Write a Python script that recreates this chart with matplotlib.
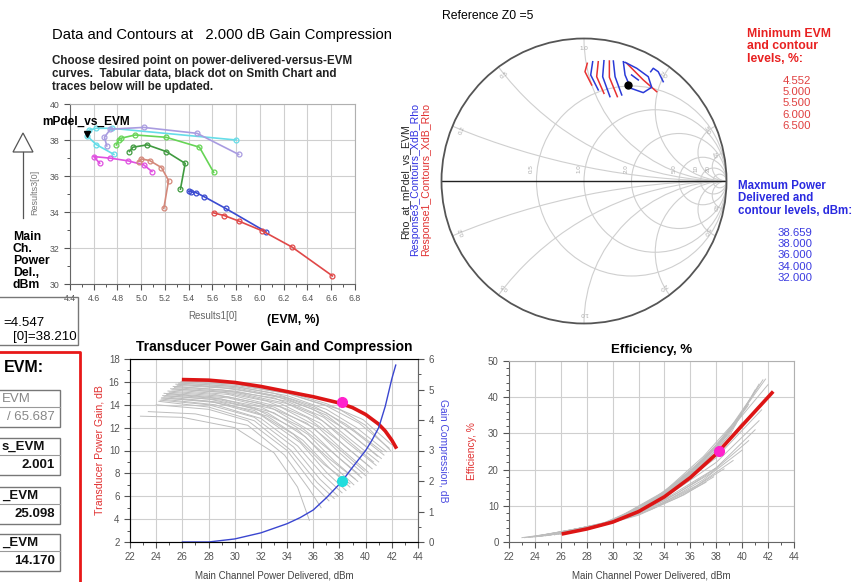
import numpy as np
import matplotlib.pyplot as plt
from matplotlib.patches import Circle, Rectangle, Polygon

plt.rcParams['font.family'] = ['Liberation Sans', 'DejaVu Sans']

# power delivered vs EVM loci (top left)
evm_cyan = [4.77, 4.62, 4.547, 4.56, 4.62, 4.75, 5.80]
pdel_cyan = [37.2, 37.75, 38.21, 38.55, 38.65, 38.65, 38.0]
evm_lav = [4.71, 4.69, 4.74, 5.02, 5.47, 5.82]
pdel_lav = [37.67, 38.15, 38.6, 38.7, 38.37, 37.2]
evm_lgreen = [4.79, 4.81, 4.83, 4.95, 5.21, 5.49, 5.61]
pdel_lgreen = [37.73, 38.0, 38.1, 38.28, 38.15, 37.6, 36.2]
evm_dgreen = [4.90, 4.93, 5.05, 5.21, 5.37, 5.33]
pdel_dgreen = [37.36, 37.6, 37.73, 37.36, 36.7, 35.27]
evm_mag = [4.65, 4.60, 4.74, 4.89, 5.02, 5.09]
pdel_mag = [36.71, 37.08, 36.99, 36.84, 36.62, 36.25]
evm_salmon = [4.98, 5.00, 5.07, 5.17, 5.23, 5.19]
pdel_salmon = [36.8, 36.95, 36.86, 36.47, 35.75, 34.2]
evm_blue = [5.40, 5.42, 5.46, 5.53, 5.71, 6.05]
pdel_blue = [35.15, 35.12, 35.08, 34.85, 34.2, 32.9]
evm_red = [5.61, 5.70, 5.82, 6.02, 6.27, 6.61]
pdel_red = [33.95, 33.8, 33.5, 32.95, 32.05, 30.45]
marker_evm, marker_pdel = 4.547, 38.210

# Smith chart contours, reflection coefficient (re, im)
evm_contours = [
    ([0.023, 0.007, 0.054], [0.826, 0.767, 0.674]),
    ([0.100, 0.089, 0.140], [0.837, 0.732, 0.615]),
    ([0.178, 0.178, 0.234], [0.842, 0.728, 0.592]),
    ([0.300, 0.416, 0.510], [0.826, 0.709, 0.627]),
]
pdel_contours = [
    ([0.061, 0.047, 0.100], [0.837, 0.744, 0.639]),
    ([0.140, 0.131, 0.182], [0.844, 0.732, 0.592]),
    ([0.206, 0.218, 0.265], [0.842, 0.732, 0.604]),
    ([0.276, 0.288, 0.328, 0.416, 0.475, 0.451, 0.370, 0.288],
     [0.837, 0.744, 0.651, 0.620, 0.658, 0.732, 0.791, 0.833]),
    ([0.334, 0.381], [0.744, 0.709]),
    ([0.468, 0.486, 0.521, 0.556], [0.767, 0.791, 0.767, 0.697]),
]
rho_sel = (0.311, 0.674)
evm_levels = ['4.552', '5.000', '5.500', '6.000', '6.500']
pdel_levels = ['38.659', '38.000', '36.000', '34.000', '32.000']
r_circles = [0.5, 1, 2, 5, 10, 20]
x_arcs = [0.2, 0.5, 1, 2, 5, 10]

# gain vs power delivered
p_gain_sel = [26.1, 28, 30, 32, 34, 36, 38, 39, 40, 41, 41.5, 42, 42.3]
gain_sel = [16.2, 16.15, 15.95, 15.6, 15.15, 14.7, 14.15, 13.75, 13.15, 12.3, 11.7, 10.9, 10.3]
p_comp = [26.0, 28, 30, 32, 34, 35, 36, 37, 38, 38.21, 39, 40, 40.5, 41, 41.5, 42, 42.3]
comp_sel = [0.0, 0.0, 0.1, 0.3, 0.6, 0.8, 1.05, 1.45, 1.9, 2.0, 2.45, 3.0, 3.35, 3.75, 4.45, 5.35, 5.8]
gain_others = [
    ([25.9, 30, 34, 37, 39.5, 41.8], [16.0, 15.8, 15.0, 13.9, 12.4, 10.2]),
    ([25.8, 30, 34, 37, 39.3, 41.6], [15.9, 15.6, 14.8, 13.6, 12.0, 9.9]),
    ([25.7, 30, 34, 37, 39.2, 41.4], [15.8, 15.5, 14.6, 13.3, 11.6, 9.6]),
    ([25.6, 30, 34, 37, 39.0, 41.2], [15.7, 15.4, 14.5, 13.1, 11.3, 9.3]),
    ([25.5, 30, 34, 36.8, 38.8, 41.0], [15.6, 15.2, 14.3, 12.9, 11.0, 9.0]),
    ([25.4, 30, 34, 36.7, 38.6, 40.8], [15.5, 15.1, 14.1, 12.6, 10.7, 8.7]),
    ([25.3, 30, 33.5, 36.5, 38.4, 40.5], [15.4, 15.0, 14.1, 12.4, 10.4, 8.4]),
    ([25.2, 29.5, 33.5, 36.3, 38.2, 40.2], [15.3, 14.9, 13.8, 12.1, 10.1, 8.1]),
    ([25.0, 29.5, 33, 36, 38, 40.0], [15.1, 14.7, 13.8, 12.0, 9.8, 7.8]),
    ([24.9, 29.5, 33, 35.8, 37.8, 39.7], [15.0, 14.6, 13.6, 11.7, 9.5, 7.6]),
    ([24.8, 29, 33, 35.6, 37.6, 39.4], [14.9, 14.5, 13.3, 11.4, 9.1, 7.3]),
    ([24.7, 29, 32.5, 35.4, 37.4, 39.1], [14.8, 14.4, 13.3, 11.2, 8.8, 7.0]),
    ([24.6, 29, 32.5, 35.2, 37.2, 38.8], [14.7, 14.2, 13.0, 10.9, 8.5, 6.8]),
    ([24.5, 28.5, 32, 35, 37, 38.5], [14.6, 14.2, 13.1, 10.7, 8.1, 6.5]),
    ([24.4, 28.5, 32, 34.8, 36.8, 38.2], [14.5, 14.0, 12.8, 10.4, 7.8, 6.3]),
    ([24.3, 28, 31.5, 34.5, 36.5, 37.9], [14.4, 14.0, 12.9, 10.3, 7.5, 6.0]),
    ([24.2, 28, 31.5, 34.3, 36.3, 37.6], [14.3, 13.8, 12.6, 10.0, 7.2, 5.8]),
    ([24.0, 28, 31, 34, 36, 37.2], [14.0, 13.6, 12.6, 10.0, 7.0, 5.6]),
    ([23.4, 27, 31, 33.8, 35.7, 36.6], [13.4, 13.2, 12.2, 9.6, 6.6, 5.0]),
    ([22.8, 26, 30, 33, 34.8, 35.7], [13.0, 12.9, 12.0, 9.8, 6.8, 3.9]),
    ([26.0, 30, 34, 37, 39.8, 42.0], [16.1, 15.85, 15.1, 14.1, 12.7, 10.5]),
    ([25.9, 30, 34, 38, 40, 41.9], [16.0, 15.7, 15.0, 13.6, 12.2, 10.0]),
    ([25.7, 30, 33, 36, 38.5, 41.3], [15.9, 15.6, 15.0, 13.9, 12.3, 9.9]),
    ([25.5, 29, 33, 36, 38.5, 40.9], [15.8, 15.5, 14.8, 13.6, 11.8, 9.5]),
    ([25.3, 29, 33, 36, 38.2, 40.6], [15.6, 15.3, 14.6, 13.2, 11.3, 9.0]),
    ([25.1, 29, 32.5, 35.5, 38, 40.3], [15.4, 15.1, 14.3, 12.9, 10.8, 8.6]),
    ([24.9, 28.5, 32, 35.5, 37.8, 39.9], [15.2, 14.9, 14.1, 12.4, 10.3, 8.2]),
    ([24.6, 28.5, 32, 35, 37.5, 39.5], [15.0, 14.6, 13.8, 12.1, 9.8, 7.9]),
    ([24.5, 28, 31.5, 34.8, 37.2, 39.2], [14.8, 14.5, 13.7, 11.8, 9.3, 7.5]),
    ([24.4, 28, 31.5, 34.5, 36.8, 38.8], [14.6, 14.3, 13.5, 11.4, 8.8, 7.1]),
]

# efficiency vs power delivered
p_eff_sel = [26.2, 28, 30, 32, 34, 36, 38, 40, 42.3]
eff_sel = [2.3, 3.6, 5.5, 8.4, 12.5, 17.8, 24.3, 32.2, 41.2]
eff_others = [
    ([25.0, 30, 34, 37, 39, 41.6], [1.9, 5.8, 13.6, 22.6, 30.5, 44.8]),
    ([24.8, 30, 34, 37, 39, 41.3], [1.8, 5.7, 13.4, 22.2, 30.0, 43.6]),
    ([24.6, 30, 34, 37, 39, 41.0], [1.7, 5.6, 13.2, 21.8, 29.3, 42.0]),
    ([24.4, 30, 34, 36.5, 38.5, 40.7], [1.6, 5.6, 13.4, 21.0, 28.6, 40.0]),
    ([24.2, 30, 33.5, 36, 38, 40.4], [1.6, 5.5, 12.3, 19.5, 26.8, 37.5]),
    ([24.0, 29.5, 33.5, 36, 38, 40.0], [1.5, 5.2, 12.0, 19.0, 26.0, 35.2]),
    ([23.8, 29.5, 33, 35.5, 37.5, 39.5], [1.4, 5.1, 11.0, 17.6, 24.6, 32.5]),
    ([23.5, 29, 33, 35.5, 37.5, 39.0], [1.3, 4.7, 10.8, 17.0, 23.5, 29.5]),
    ([23.0, 28, 32, 35, 37, 38.0], [1.2, 3.6, 8.0, 13.5, 18.0, 20.5]),
    ([23.2, 28, 32, 35, 37.2], [1.2, 3.4, 7.4, 12.2, 16.5]),
    ([23.6, 28, 32, 35.5, 37.8], [1.3, 3.5, 7.6, 13.0, 18.0]),
    ([24.0, 29, 33, 36, 38.6], [1.4, 4.3, 9.0, 14.4, 20.2]),
    ([24.5, 29, 33, 36.5, 39.3], [1.6, 4.4, 9.3, 15.6, 22.5]),
    ([25.0, 30, 34, 37, 40.0], [1.8, 5.3, 11.0, 17.2, 25.4]),
    ([25.5, 30, 34, 37.5, 40.5], [2.0, 5.4, 11.4, 18.8, 28.0]),
    ([25.8, 30, 34, 38, 41.0], [2.1, 5.4, 11.8, 20.5, 31.0]),
    ([26.0, 30, 34, 38, 41.3], [2.2, 5.5, 12.2, 22.0, 33.5]),
    ([26.0, 30, 34, 38, 41.5], [2.2, 5.6, 12.6, 23.3, 36.5]),
    ([26.2, 30, 34, 38, 41.8], [2.3, 5.6, 12.8, 24.5, 39.5]),
    ([25.5, 30, 34, 37, 39.5, 42.0], [2.0, 5.8, 13.8, 23.0, 32.8, 43.5]),
    ([25.2, 30, 34, 37, 39.5, 41.8], [1.9, 5.9, 14.0, 23.6, 33.5, 45.0]),
    ([24.8, 30, 33, 36, 38.5, 40.5], [1.7, 5.5, 11.5, 19.5, 28.0, 38.0]),
    ([24.3, 29, 33, 36, 38.5, 40.0], [1.6, 4.8, 11.0, 18.5, 26.0, 33.0]),
]
p_sel, gain_at_sel, comp_at_sel, eff_at_sel = 38.21, 14.2, 2.0, 25.1

W, H = 854, 582
fig = plt.figure(figsize=(W / 100, H / 100), dpi=100)
GRID = '#cfcfcf'
TICK = '#555555'


def box(l, t, r, b):
    """axes rect from pixel edges"""
    return [l / W, 1 - b / H, (r - l) / W, (b - t) / H]


def style(ax, size=6.5):
    ax.grid(True, color=GRID, lw=0.8)
    ax.set_axisbelow(True)
    ax.tick_params(labelsize=size, colors=TICK, length=4, width=0.8)
    ax.tick_params(which='minor', length=2.5, width=0.7, colors=TICK)
    for s in ['top', 'right']:
        ax.spines[s].set_color('#b0b0b0')
    for s in ['left', 'bottom']:
        ax.spines[s].set_color('#666666')


# ---------- top left: Pdel vs EVM
ax1 = fig.add_axes(box(70, 104, 355, 284))
series = [(evm_cyan, pdel_cyan, '#66dde8'), (evm_lav, pdel_lav, '#a99ce0'),
          (evm_lgreen, pdel_lgreen, '#66d455'), (evm_dgreen, pdel_dgreen, '#3f9a3f'),
          (evm_mag, pdel_mag, '#e050e0'), (evm_salmon, pdel_salmon, '#d4887a'),
          (evm_blue, pdel_blue, '#3a4ad0'), (evm_red, pdel_red, '#e04848')]
for ex, py, c in series:
    ax1.plot(ex, py, color=c, lw=1.2, marker='o', ms=3.5, mfc='none', mew=0.9)
ax1.plot([marker_evm], [marker_pdel + 0.15], marker='v', color='black', ms=5)
ax1.set_xlim(4.4, 6.8)
ax1.set_ylim(30, 40)
ax1.set_xticks(np.arange(4.4, 6.81, 0.2))
ax1.set_yticks(np.arange(30, 40.1, 2))
ax1.set_yticks(np.arange(30, 40.1, 1), minor=True)
ax1.set_xticks(np.arange(4.5, 6.8, 0.2), minor=True)
style(ax1, 6.3)
ax1.set_xticklabels(['%.1f' % v for v in np.arange(4.4, 6.81, 0.2)])

# ---------- Smith chart
ax2 = fig.add_axes(box(441.5, 38.5, 726.5, 323.5))
ax2.set_xlim(-1, 1)
ax2.set_ylim(-1, 1)
ax2.set_aspect('equal')
ax2.axis('off')
edge = Circle((0, 0), 1, fill=False, ec='#555555', lw=1.3, clip_on=False, zorder=3)
ax2.add_patch(edge)
for r in r_circles:
    ax2.add_patch(Circle((r / (1 + r), 0), 1 / (1 + r), fill=False, ec=GRID, lw=0.8))
    ax2.text((r - 1) / (r + 1) - 0.035, 0.09, '%.1f' % r if r < 10 else '%d' % r,
             rotation=90, fontsize=4.5, color='#aaaaaa', ha='center', va='center')
for xv in x_arcs:
    for s in (1, -1):
        arc = Circle((1, s / xv), 1 / xv, fill=False, ec=GRID, lw=0.8)
        ax2.add_patch(arc)
        arc.set_clip_path(edge)
        th = 2 * np.arctan(1 / xv) * s
        ax2.text(0.93 * np.cos(th), 0.93 * np.sin(th), '%.1f' % xv if xv < 10 else '%d' % xv,
                 rotation=np.degrees(th) - 90, fontsize=4.5, color='#aaaaaa',
                 ha='center', va='center')
ax2.plot([-1, 1], [0, 0], color='#222222', lw=1)
for gx, gy in evm_contours:
    ax2.plot(gx, gy, color='#e83030', lw=1.1)
for gx, gy in pdel_contours:
    ax2.plot(gx, gy, color='#2a3ad8', lw=1.1)
ax2.plot([rho_sel[0]], [rho_sel[1]], 'o', color='black', ms=5)

# ---------- gain and compression
ax3 = fig.add_axes(box(130, 359, 418, 542))
for px, gy in gain_others:
    ax3.plot(px, gy, color='#bdbdbd', lw=0.7)
ax3.plot(p_gain_sel, gain_sel, color='#dd1515', lw=2.6)
ax3.plot([p_sel], [gain_at_sel], 'o', color='#ff22cc', ms=7)
ax3.set_xlim(22, 44)
ax3.set_ylim(2, 18)
ax3.set_xticks(np.arange(22, 44.1, 2))
ax3.set_xticks(np.arange(23, 44, 2), minor=True)
ax3.set_yticks(np.arange(2, 18.1, 2))
ax3.set_yticks(np.arange(3, 18, 2), minor=True)
style(ax3, 7)
ax3.set_title('Transducer Power Gain and Compression', fontsize=10, fontweight='bold', pad=6)
ax3.set_xlabel('Main Channel Power Delivered, dBm', fontsize=7, color='#444444', labelpad=6)
ax3.set_ylabel('Transducer Power Gain, dB', fontsize=7.6, color='#e03030', labelpad=3)
ax3b = ax3.twinx()
ax3b.plot(p_comp, comp_sel, color='#3a46d0', lw=1)
ax3b.plot([p_sel], [comp_at_sel], 'o', color='#22dddd', ms=7)
ax3b.set_ylim(0, 6)
ax3b.set_yticks(np.arange(0, 6.1, 1))
ax3b.set_yticks(np.arange(0.5, 6, 1), minor=True)
ax3b.tick_params(labelsize=7, colors=TICK, length=4, width=0.8)
ax3b.tick_params(which='minor', length=2.5, width=0.7, colors=TICK)
ax3b.spines['right'].set_color('#666666')
ax3b.set_ylabel('Gain Compression, dB', fontsize=7.4, color='#4848e0', rotation=270, labelpad=10)

# ---------- efficiency
ax4 = fig.add_axes(box(509, 361, 794, 542))
for px, ey in eff_others:
    ax4.plot(px, ey, color='#bdbdbd', lw=0.7)
ax4.plot(p_eff_sel, eff_sel, color='#dd1515', lw=2.6)
ax4.plot([p_sel], [eff_at_sel], 'o', color='#ff22cc', ms=7)
ax4.set_xlim(22, 44)
ax4.set_ylim(0, 50)
ax4.set_xticks(np.arange(22, 44.1, 2))
ax4.set_xticks(np.arange(23, 44, 2), minor=True)
ax4.set_yticks(np.arange(0, 50.1, 10))
ax4.set_yticks(np.arange(0, 50, 2), minor=True)
style(ax4, 7)
ax4.set_title('Efficiency, %', fontsize=9.5, fontweight='bold', pad=6)
ax4.set_xlabel('Main Channel Power Delivered, dBm', fontsize=7, color='#444444', labelpad=6)
ax4.set_ylabel('Efficiency, %', fontsize=7.4, color='#e03030', labelpad=8)

# ---------- overlay for free text and readout boxes (pixel coords)
ov = fig.add_axes([0, 0, 1, 1])
ov.set_xlim(0, W)
ov.set_ylim(H, 0)
ov.axis('off')
ov.patch.set_alpha(0)

ov.text(52, 35, 'Data and Contours at   2.000 dB Gain Compression', fontsize=10.6, va='center')
ov.text(52, 55, 'Choose desired point on power-delivered-versus-EVM\n'
        'curves.  Tabular data, black dot on Smith Chart and\n'
        'traces below will be updated.', fontsize=8.4, fontweight='bold', va='top',
        linespacing=1.1, color='#222222')
ov.text(42, 122, 'mPdel_vs_EVM', fontsize=8.6, fontweight='bold', va='center')
ov.add_patch(Polygon([(13, 152), (23, 133), (33, 152)], closed=True, fill=False, ec='#555555', lw=0.9))
ov.plot([23, 23], [152, 218], color='#555555', lw=0.9)
ov.text(35, 192, 'Results3[0]', rotation=90, fontsize=6.5, color='#777777', ha='center', va='center')
ov.text(13, 231, 'Main\nCh.\nPower\nDel.,\ndBm', fontsize=8.8, fontweight='bold', va='top',
        linespacing=1.0)
ov.text(213, 316, 'Results1[0]', fontsize=7, color='#666666', ha='center', va='center')
ov.text(293, 320, '(EVM, %)', fontsize=8.8, fontweight='bold', ha='center', va='center')

# smith chart texts
ov.text(442, 16, 'Reference Z0 =5', fontsize=8.8, va='center')
ov.text(405, 182, 'Rho_at_mPdel_vs_EVM', rotation=90, fontsize=7.6, color='#222222', ha='center', va='center')
ov.text(415, 180, 'Response3_Contours_XdB_Rho', rotation=90, fontsize=7.6, color='#3030e0', ha='center', va='center')
ov.text(426, 180, 'Response1_Contours_XdB_Rho', rotation=90, fontsize=7.6, color='#e03030', ha='center', va='center')
ov.text(747, 28, 'Minimum EVM\nand contour\nlevels, %:', fontsize=8.8, fontweight='bold', color='#e82020',
        va='top', linespacing=1.05)
ov.text(797, 76, '\n'.join(evm_levels), fontsize=8.2, color='#e04040', ha='center', va='top', linespacing=1.15)
ov.text(738, 180, 'Maxmum Power\nDelivered and\ncontour levels, dBm:', fontsize=8.3, fontweight='bold',
        color='#2a2ae0', va='top', linespacing=1.05)
ov.text(795, 228, '\n'.join(pdel_levels), fontsize=8.2, color='#3a3ae0', ha='center', va='top', linespacing=1.15)

# readout boxes on the left edge (only the visible ends of the strings)
ov.add_patch(Rectangle((-2, 297), 80, 48, fill=False, ec='#777777', lw=1))
ov.text(3, 323, '=4.547', fontsize=9.6, ha='left', va='center')
ov.text(77, 337, '[0]=38.210', fontsize=9.6, ha='right', va='center')
ov.plot([0, 80, 80], [352, 352, 590], color='#e81818', lw=2)
ov.text(4, 367, 'EVM:', fontsize=11.5, fontweight='bold', ha='left', va='center')
for top, lab, val, bold, col in [(390, 'EVM', '/ 65.687', False, '#888888'),
                                 (438, 's_EVM', '2.001', True, '#111111'),
                                 (487, '_EVM', '25.098', True, '#111111'),
                                 (534, '_EVM', '14.170', True, '#111111')]:
    ov.add_patch(Rectangle((-2, top), 62, 37, fill=False, ec='#777777', lw=1))
    ov.plot([-2, 60], [top + 17, top + 17], color='#999999', lw=0.8)
    fw = 'bold' if bold else 'normal'
    ov.text(2, top + 8.5, lab, fontsize=9.5, fontweight=fw, color=col, ha='left', va='center')
    ov.text(55, top + 27, val, fontsize=9.5, fontweight=fw, color=col, ha='right', va='center')

fig.savefig('out.png', dpi=100)
